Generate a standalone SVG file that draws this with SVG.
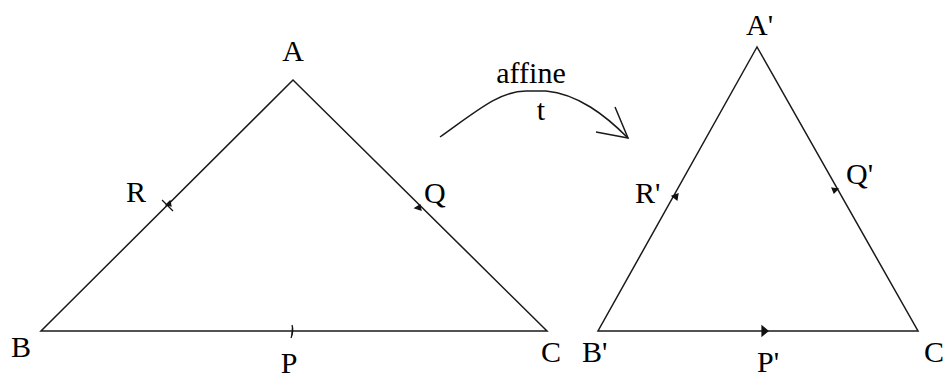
<svg xmlns="http://www.w3.org/2000/svg" width="952" height="380" viewBox="0 0 952 380">
<style>
.ln{fill:none;stroke:#1a1a1a;stroke-width:1.5;stroke-linejoin:miter}
.mk{fill:#111;stroke:#111;stroke-width:1.2}
.lb{font-family:"Liberation Serif","Times New Roman",serif;font-size:30px;fill:#000}
</style>
<rect width="952" height="380" fill="#fff"/>
<g id="triangle-ABC">
<polygon class="ln" points="293,80 41,331 547,331"/>
</g>
<g id="triangle-A1B1C1">
<polygon class="ln" points="757,47 598,331 918,331"/>
</g>
<g id="connectors">
<path class="ln" d="M440,137 C478,110 500,91 526,91 L546,91 C578,94 605,115 628,138"/>
<path class="ln" d="M596,132 L628,138 L615,107"/>
</g>
<g id="marks">
<path class="mk" d="M162,200 L173,211" fill="none"/>
<path class="mk" d="M166,205 L170,201 L171,206 Z"/>
<path class="mk" d="M415,208 L420,205 L421,210 Z"/>
<path class="mk" d="M292,325 Q294,331 291,338" fill="none"/>
<path class="mk" d="M672,196 L678,194 L677,200 Z"/>
<path class="mk" d="M832,188 L838,189 L834,193 Z"/>
<path class="mk" d="M762,326 L768,331 L762,336 Z"/>
</g>
<g id="labels">
<text class="lb" x="293" y="61" text-anchor="middle">A</text>
<text class="lb" x="11" y="357">B</text>
<text class="lb" x="541" y="362">C</text>
<text class="lb" x="289" y="373" text-anchor="middle">P</text>
<text class="lb" x="126" y="202">R</text>
<text class="lb" x="424" y="203">Q</text>
<text class="lb" x="746" y="35">A'</text>
<text class="lb" x="582" y="362">B'</text>
<text class="lb" x="924" y="362">C</text>
<text class="lb" x="757" y="372">P'</text>
<text class="lb" x="635" y="203">R'</text>
<text class="lb" x="846" y="184">Q'</text>
<text class="lb" x="531" y="83" text-anchor="middle">affine</text>
<text class="lb" x="541" y="120" text-anchor="middle">t</text>
</g>
</svg>
